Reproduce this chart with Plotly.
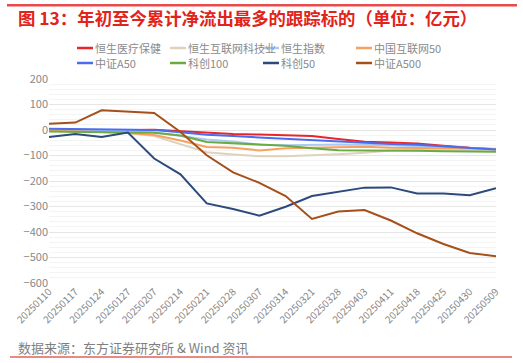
import plotly.graph_objects as go

dates = ["20250110", "20250117", "20250124", "20250127", "20250207", "20250214",
         "20250221", "20250228", "20250307", "20250314", "20250321", "20250328",
         "20250403", "20250411", "20250418", "20250425", "20250430", "20250509"]

hs_health = [0, -1, -1, -1, 1, -5, -12, -16, -18, -21, -24, -35, -46, -49, -53, -62, -70, -75]
hs_tech = [-2, -5, -8, -12, -24, -54, -87, -96, -103, -103, -100, -95, -89, -80, -78, -78, -80, -80]
hsi = [2, 1, 0, -2, -9, -22, -37, -45, -58, -60, -58, -57, -58, -60, -62, -66, -72, -76]
china_net50 = [-3, -5, -8, -12, -20, -41, -67, -70, -80, -72, -70, -69, -66, -70, -71, -72, -73, -74]
csi_a50 = [5, 4, 4, 3, 0, -9, -19, -24, -29, -36, -42, -47, -52, -55, -58, -64, -70, -76]
star100 = [-6, -8, -10, -10, -11, -22, -47, -52, -59, -62, -72, -79, -80, -80, -81, -83, -84, -85]
star50 = [-27, -16, -27, -10, -112, -174, -288, -310, -336, -301, -259, -243, -226, -225, -249, -249, -256, -228]
csi_a500 = [25, 29, 77, 72, 67, -8, -99, -166, -207, -259, -349, -320, -314, -355, -405, -447, -482, -495]

names = ["恒生医疗保健", "恒生互联网科技业", "恒生指数", "中国互联网50",
         "中证A50", "科创100", "科创50", "中证A500"]
values = [hs_health, hs_tech, hsi, china_net50, csi_a50, star100, star50, csi_a500]
colors = ["#E8262A", "#DDD3BD", "#A9CBF5", "#F7A062",
          "#4A6CF0", "#6AAB45", "#2C4A7C", "#A5501A"]

W, H = 523, 363
L, R, T, B = 49, 27, 79, 80
PW, PH = W - L - R, H - T - B


def px(x):
    return (x - L) / PW


def py(y):
    return (H - B - y) / PH


fig = go.Figure()
for n, v, c in zip(names, values, colors):
    fig.add_trace(go.Scatter(x=dates, y=v, name=n, mode="lines",
                             line=dict(color=c, width=2), showlegend=False))

shapes = []
annotations = []
# manual legend: 4 columns x 2 rows
for i, (n, c) in enumerate(zip(names, colors)):
    col, row = i % 4, i // 4
    x0 = 77 + col * 93
    y = 48 + row * 15
    shapes.append(dict(type="line", xref="paper", yref="paper",
                       x0=px(x0), x1=px(x0 + 16), y0=py(y), y1=py(y),
                       line=dict(color=c, width=2.5)))
    annotations.append(dict(text=n, xref="paper", yref="paper",
                            x=px(x0 + 16), y=py(y),
                            xanchor="left", yanchor="middle", showarrow=False,
                            font=dict(size=11, color="#8a8a8a")))

annotations.append(dict(text="<b>图 13：年初至今累计净流出最多的跟踪标的（单位：亿元）</b>",
                        xref="paper", yref="paper", x=px(16), y=py(18),
                        xanchor="left", yanchor="middle", showarrow=False,
                        font=dict(size=17.4, color="#E2231A")))
annotations.append(dict(text="数据来源：东方证券研究所 & Wind 资讯",
                        xref="paper", yref="paper", x=px(16), y=py(347),
                        xanchor="left", yanchor="middle", showarrow=False,
                        font=dict(size=13, color="#7f7f7f")))
# decorative rules at the top and bottom of the page
for (xa, xb, yc, col) in [(7, 517, 5.5, "#E84A4A"), (10, 512, 357, "#E88A84")]:
    shapes.append(dict(type="line", xref="paper", yref="paper",
                       x0=px(xa), x1=px(xb), y0=py(yc), y1=py(yc),
                       line=dict(color=col, width=2)))
    annotations.append(dict(text=" ", xref="paper", yref="paper",
                            x=px(xa), y=py(yc), xanchor="left", yanchor="middle",
                            width=xb - xa, height=2, bgcolor=col, borderpad=0,
                            borderwidth=0, showarrow=False, font=dict(size=1)))

fig.update_layout(
    width=W, height=H,
    margin=dict(l=L, r=R, t=T, b=B, autoexpand=False),
    paper_bgcolor="white", plot_bgcolor="white",
    font=dict(family="Noto Sans CJK SC, Noto Sans, sans-serif", color="#888888"),
    shapes=shapes, annotations=annotations,
    xaxis=dict(type="category", tickangle=-45, showgrid=False, showline=False,
               automargin=False, ticks="", tickfont=dict(size=10, color="#888888"),
               fixedrange=True),
    yaxis=dict(range=[-600, 200], dtick=100, tick0=0, showgrid=True, automargin=False,
               gridcolor="#e6e6e6", gridwidth=1, zeroline=False, showline=False,
               ticks="", tickfont=dict(size=11, color="#888888"), fixedrange=True,
               minor=dict(dtick=20, showgrid=True, gridcolor="#f4f4f4", gridwidth=1)),
)

fig.write_html("out.html", config={"displayModeBar": False},
               post_script="document.body.style.margin='0';document.body.style.overflow='hidden';")
